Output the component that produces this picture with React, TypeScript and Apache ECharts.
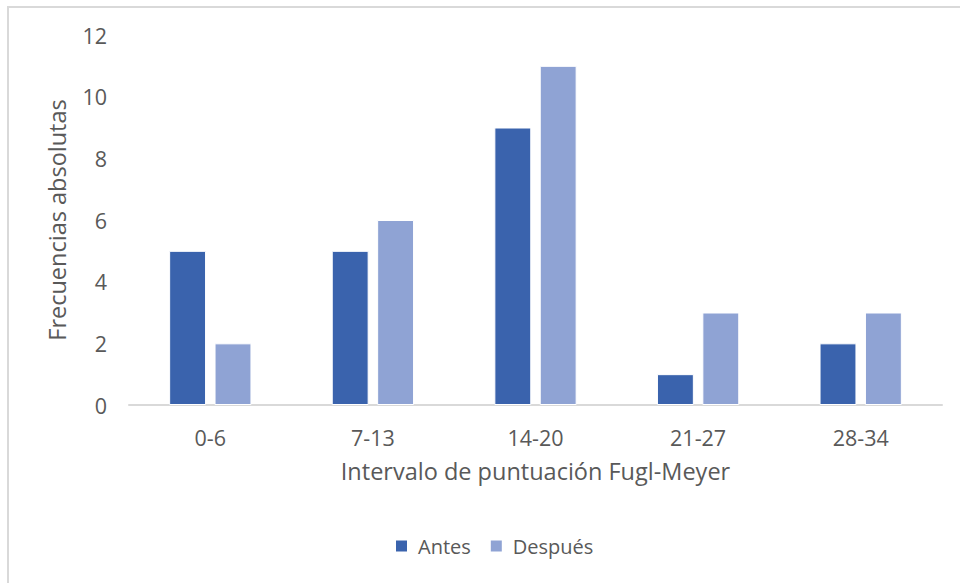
import React, { useEffect, useRef } from "react";
import * as echarts from "echarts";

const categories = ["0-6", "7-13", "14-20", "21-27", "28-34"];
const antes = [5, 5, 9, 1, 2];
const despues = [2, 6, 11, 3, 3];
const seriesNames = ["Antes", "Después"];
const xTitle = "Intervalo de puntuación Fugl-Meyer";
const yTitle = "Frecuencias absolutas";

const TEXT = "#595959";
const FONT = "'Open Sans', sans-serif";

export default function App() {
  const ref = useRef<HTMLDivElement>(null);

  useEffect(() => {
    if (!ref.current) return;
    const chart = echarts.init(ref.current, undefined, { renderer: "svg" });
    chart.setOption({
      animation: false,
      backgroundColor: "#ffffff",
      textStyle: { fontFamily: FONT, color: TEXT },
      graphic: [
        {
          type: "rect",
          shape: { x: 8, y: 7, width: 980, height: 600 },
          style: { fill: "none", stroke: "#D9D9D9", lineWidth: 2 },
          silent: true,
        },
      ],
      grid: { left: 129, right: 18, top: 35, bottom: 178 },
      legend: {
        top: 531,
        left: 389,
        itemWidth: 13,
        itemHeight: 13,
        itemGap: 18,
        icon: "rect",
        data: seriesNames,
        textStyle: { fontFamily: FONT, fontSize: 20, color: TEXT, padding: [0, 0, 0, 5] },
      },
      xAxis: {
        type: "category",
        data: categories,
        name: xTitle,
        nameLocation: "middle",
        nameGap: 54,
        nameTextStyle: { fontFamily: FONT, fontSize: 23.5, color: TEXT },
        axisLine: { lineStyle: { color: "#D9D9D9", width: 2 } },
        axisTick: { show: false },
        axisLabel: { fontFamily: FONT, fontSize: 21.5, color: TEXT, margin: 21 },
      },
      yAxis: {
        type: "value",
        min: 0,
        max: 12,
        interval: 2,
        name: yTitle,
        nameLocation: "middle",
        nameGap: 60,
        nameTextStyle: { fontFamily: FONT, fontSize: 23.5, color: TEXT },
        axisLine: { show: false },
        axisTick: { show: false },
        splitLine: { show: false },
        axisLabel: { fontFamily: FONT, fontSize: 21.5, color: TEXT, margin: 22 },
      },
      series: [
        {
          name: seriesNames[0],
          type: "bar",
          data: antes,
          barWidth: "22.7%",
          barGap: "23%",
          itemStyle: { color: "#3A63AD", borderColor: "#ffffff", borderWidth: 1 },
        },
        {
          name: seriesNames[1],
          type: "bar",
          data: despues,
          barWidth: "22.7%",
          itemStyle: { color: "#8FA3D4", borderColor: "#ffffff", borderWidth: 1 },
        },
      ],
    });
    return () => chart.dispose();
  }, []);

  return (
    <div
      ref={ref}
      style={{ position: "fixed", left: 0, top: 0, width: 960, height: 583 }}
    />
  );
}
